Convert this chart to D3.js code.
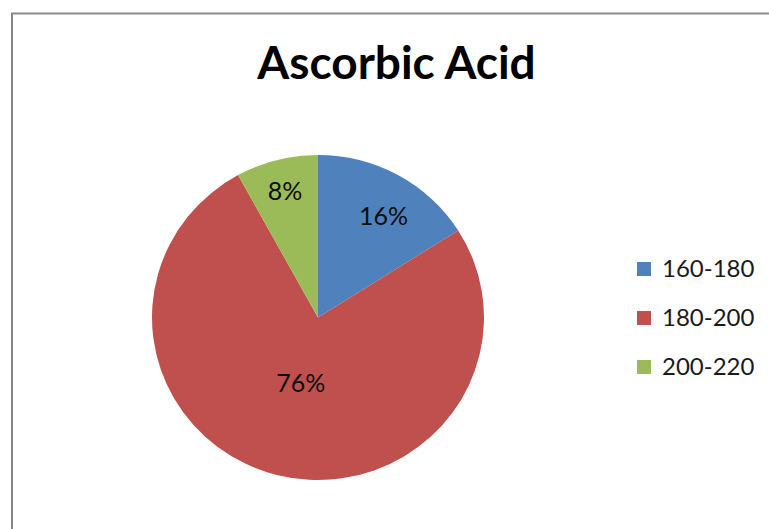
<!DOCTYPE html>
<html>
<head>
<meta charset="utf-8">
<script src="https://cdn.jsdelivr.net/npm/d3@7"></script>
<style>
  html, body { margin: 0; padding: 0; background: #fff; }
  svg { display: block; }
</style>
</head>
<body>
<svg id="chart" width="769" height="529"></svg>
<script>
const title = "Ascorbic Acid";
const categories = ["160-180", "180-200", "200-220"];
const values = [16, 76, 8];
const colors = ["#4F81BD", "#C0504D", "#9BBB59"];

const svg = d3.select("#chart");
const W = 769, H = 529;

// chart border
svg.append("rect")
  .attr("x", 12).attr("y", 13.5)
  .attr("width", W + 10).attr("height", H + 10)
  .attr("fill", "#fff").attr("stroke", "#878787").attr("stroke-width", 2);

svg.append("text")
  .attr("x", 396.5).attr("y", 79)
  .attr("text-anchor", "middle")
  .attr("font-family", "Lato, 'Open Sans', sans-serif")
  .attr("font-weight", "bold")
  .attr("font-size", 46)
  .attr("fill", "#000")
  .text(title);

const cx = 318, cy = 317.5, rx = 166, ry = 162.5;
const r = rx;
const pie = d3.pie().sort(null).value(d => d);
const arcs = pie(values);
const arc = d3.arc().innerRadius(0).outerRadius(r);

const g = svg.append("g").attr("transform", `translate(${cx},${cy}) scale(1,${ry / rx})`);
g.selectAll("path").data(arcs).enter().append("path")
  .attr("d", arc)
  .attr("fill", (d, i) => colors[i]);

// radial placement of each percentage label (fraction of radius, angle nudge in radians)
const labelFactor = [0.74, 0.42, 0.80];
const labelNudge = [0.06, 0, 0];
const lg = svg.append("g").attr("transform", `translate(${cx},${cy})`);
lg.selectAll("text").data(arcs).enter().append("text")
  .attr("x", (d, i) => Math.sin((d.startAngle + d.endAngle) / 2 + labelNudge[i]) * rx * labelFactor[i])
  .attr("y", (d, i) => -Math.cos((d.startAngle + d.endAngle) / 2 + labelNudge[i]) * ry * labelFactor[i])
  .attr("dy", "0.35em")
  .attr("text-anchor", "middle")
  .attr("font-family", "Lato, 'Open Sans', sans-serif")
  .attr("font-size", 25)
  .attr("fill", "#0d0d0d")
  .text(d => Math.round(d.value / d3.sum(values) * 100) + "%");

const legend = svg.append("g");
const ly = d3.scalePoint().domain(categories).range([269, 367]);
const items = legend.selectAll("g").data(categories).enter().append("g")
  .attr("transform", d => `translate(637,${ly(d)})`);
items.append("rect")
  .attr("x", 0).attr("y", -7).attr("width", 14).attr("height", 14)
  .attr("fill", (d, i) => colors[i]);
items.append("text")
  .attr("x", 25).attr("y", 0).attr("dy", "0.35em")
  .attr("font-family", "Lato, 'Open Sans', sans-serif")
  .attr("font-size", 24)
  .attr("fill", "#1a1a1a")
  .text(d => d);
</script>
</body>
</html>
